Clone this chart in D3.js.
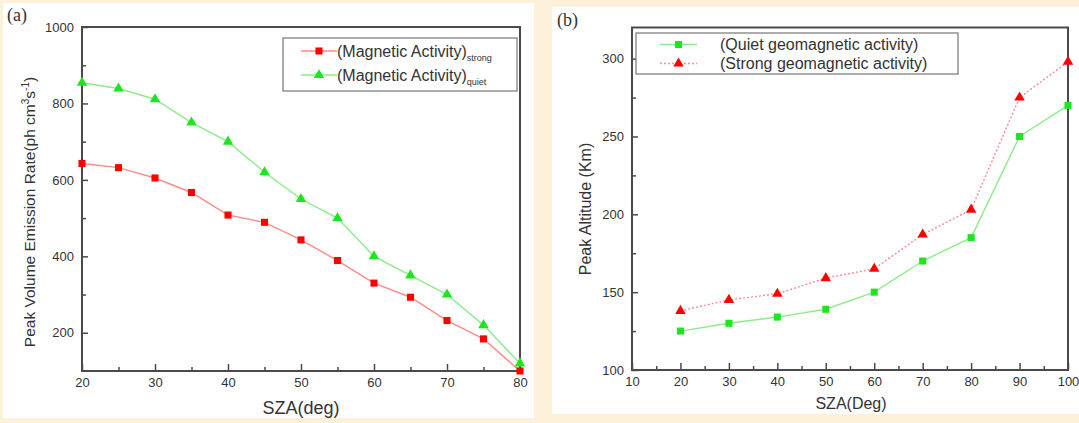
<!DOCTYPE html>
<html><head><meta charset="utf-8">
<script src="https://cdn.jsdelivr.net/npm/d3@7"></script>
<style>
html,body{margin:0;padding:0;background:#fdf2d9;}
svg{display:block;}
text{font-family:"Liberation Sans",Arial,sans-serif;}
text.serif{font-family:"Liberation Serif","Times New Roman",serif;}
</style></head>
<body>
<svg id="c" width="1079" height="423"></svg>
<script>
// ---- Panel (a) data ----
const szaA = [20,25,30,35,40,45,50,55,60,65,70,75,80];
const emissionStrong = [643,632,605,567,508,489,443,389,330,293,232,184,100];
const emissionQuiet  = [854,839,811,750,700,620,550,500,400,350,300,220,120];
const xTicksA = [20,30,40,50,60,70,80];
const yTicksA = [200,400,600,800,1000];
// ---- Panel (b) data ----
const szaB = [20,30,40,50,60,70,80,90,100];
const altitudeQuiet  = [125,130,134,139,150,170,185,250,270];
const altitudeStrong = [138,145,149,159,165,187,203,275,298];
const xTicksB = [10,20,30,40,50,60,70,80,90,100];
const yTicksB = [100,150,200,250,300];

const svg = d3.select("#c");
const AX = "#4a4a4a", LBL = "#333333";
const RED = "#ff0000", REDL = "#ff8a8a", GRN = "#1ee61e", GRNL = "#8aec8a";

// panel backgrounds
svg.append("rect").attr("x",3).attr("y",3).attr("width",531).attr("height",415).attr("fill","#fff");
svg.append("rect").attr("x",552).attr("y",7).attr("width",527).attr("height",407).attr("fill","#fff");

function styleAxis(g, fs){
  g.select(".domain").remove();
  g.selectAll("line").attr("stroke",AX).attr("stroke-width",1.5);
  g.selectAll("text").attr("fill",LBL).attr("font-size",fs);
}

function panel(o){
  const x = d3.scaleLinear().domain(o.xd).range(o.xr);
  const y = d3.scaleLinear().domain(o.yd).range(o.yr);
  const g = svg.append("g");
  const gx = g.append("g").attr("transform",`translate(0,${o.yr[0]})`)
    .call(d3.axisBottom(x).tickValues(o.xt).tickSize(-7).tickPadding(7).tickFormat(d3.format("d")));
  styleAxis(gx, 13);
  const gxm = g.append("g").attr("transform",`translate(0,${o.yr[0]})`)
    .call(d3.axisBottom(x).tickValues(o.xm).tickSize(-4).tickFormat(""));
  styleAxis(gxm, 13);
  const gy = g.append("g").attr("transform",`translate(${o.xr[0]},0)`)
    .call(d3.axisLeft(y).tickValues(o.yt).tickSize(-6).tickPadding(8).tickFormat(d3.format("d")));
  styleAxis(gy, 13);
  const gym = g.append("g").attr("transform",`translate(${o.xr[0]},0)`)
    .call(d3.axisLeft(y).tickValues(o.ym).tickSize(-4).tickFormat(""));
  styleAxis(gym, 13);
  g.append("rect").attr("x",o.xr[0]).attr("y",o.yr[1]).attr("width",o.xr[1]-o.xr[0]).attr("height",o.yr[0]-o.yr[1])
    .attr("fill","none").attr("stroke",AX).attr("stroke-width",2);
  return {x,y,g};
}

function series(p, xs, ys, col, lcol, marker, dash){
  const line = d3.line().x((d,i)=>p.x(xs[i])).y(d=>p.y(d));
  p.g.append("path").datum(ys).attr("d",line).attr("fill","none").attr("stroke",lcol)
    .attr("stroke-width",1.4).attr("stroke-dasharray",dash||null);
  const sym = d3.symbol().type(marker==="sq"?d3.symbolSquare:d3.symbolTriangle).size(marker==="sq"?50:48);
  p.g.selectAll(null).data(ys).enter().append("path")
    .attr("d",sym).attr("fill",col)
    .attr("transform",(d,i)=>`translate(${p.x(xs[i])},${p.y(d)})`);
}

// ---------- Panel (a) ----------
const pa = panel({xd:[20,80], xr:[82,520], yd:[100,1000], yr:[371,27],
  xt:xTicksA, xm:[25,35,45,55,65,75], yt:yTicksA, ym:[300,500,700,900]});
series(pa, szaA, emissionStrong, RED, REDL, "sq");
series(pa, szaA, emissionQuiet, GRN, GRNL, "tri");

svg.append("text").attr("class","serif").attr("x",7).attr("y",21)
  .attr("font-size",18).attr("fill","#333").text("(a)");
svg.append("text").attr("x",301).attr("y",414).attr("text-anchor","middle").attr("font-size",18).attr("fill",LBL).text("SZA(deg)");
const yla = svg.append("text").attr("transform","translate(35,212) rotate(-90)").attr("text-anchor","middle")
  .attr("font-size",15.5).attr("fill",LBL);
yla.append("tspan").text("Peak Volume Emission Rate(ph cm");
yla.append("tspan").attr("font-size",10).attr("dy",-6).text("3");
yla.append("tspan").attr("dy",6).text("s");
yla.append("tspan").attr("font-size",10).attr("dy",-6).text("-1");
yla.append("tspan").attr("dy",6).text(")");

// legend (a)
const la = svg.append("g");
la.append("rect").attr("x",283).attr("y",38).attr("width",234).attr("height",53).attr("fill","#fff").attr("stroke","#777").attr("stroke-width",1.2);
const legA = [{c:RED,l:REDL,m:"sq",t:"(Magnetic Activity)",s:"strong",y:51},
              {c:GRN,l:GRNL,m:"tri",t:"(Magnetic Activity)",s:"quiet",y:75}];
legA.forEach(e=>{
  la.append("line").attr("x1",301).attr("x2",337).attr("y1",e.y).attr("y2",e.y).attr("stroke",e.l).attr("stroke-width",1.4);
  la.append("path").attr("d",d3.symbol().type(e.m==="sq"?d3.symbolSquare:d3.symbolTriangle).size(e.m==="sq"?50:48))
    .attr("fill",e.c).attr("transform",`translate(319,${e.y})`);
  const t = la.append("text").attr("x",337).attr("y",e.y+5.5).attr("font-size",16).attr("fill",LBL);
  t.append("tspan").text(e.t);
  t.append("tspan").attr("font-size",9).attr("dy",4).text(e.s);
});

// ---------- Panel (b) ----------
const pb = panel({xd:[10,100], xr:[632,1068], yd:[100,320], yr:[370,27.5],
  xt:xTicksB, xm:[15,25,35,45,55,65,75,85,95], yt:yTicksB, ym:[125,175,225,275]});
series(pb, szaB, altitudeQuiet, GRN, GRNL, "sq");
series(pb, szaB, altitudeStrong, RED, REDL, "tri", "2,2");

svg.append("text").attr("class","serif").attr("x",557).attr("y",26)
  .attr("font-size",18).attr("fill","#333").text("(b)");
svg.append("text").attr("x",851).attr("y",409).attr("text-anchor","middle").attr("font-size",16).attr("fill",LBL).text("SZA(Deg)");
svg.append("text").attr("transform","translate(591,209) rotate(-90)").attr("text-anchor","middle")
  .attr("font-size",16).attr("fill",LBL).text("Peak Altitude (Km)");

const lb = svg.append("g");
lb.append("rect").attr("x",636).attr("y",33).attr("width",322).attr("height",41).attr("fill","#fff").attr("stroke","#777").attr("stroke-width",1.2);
const legB = [{c:GRN,l:GRNL,m:"sq",t:"(Quiet geomagnetic activity)",y:44.5,d:null},
              {c:RED,l:REDL,m:"tri",t:"(Strong geomagnetic activity)",y:63.5,d:"2,2"}];
legB.forEach(e=>{
  lb.append("line").attr("x1",660).attr("x2",697).attr("y1",e.y).attr("y2",e.y).attr("stroke",e.l).attr("stroke-width",1.4).attr("stroke-dasharray",e.d);
  lb.append("path").attr("d",d3.symbol().type(e.m==="sq"?d3.symbolSquare:d3.symbolTriangle).size(e.m==="sq"?50:48))
    .attr("fill",e.c).attr("transform",`translate(678.5,${e.y})`);
  lb.append("text").attr("x",720).attr("y",e.y+5.5).attr("font-size",16).attr("fill",LBL).text(e.t);
});
</script>
</body></html>
